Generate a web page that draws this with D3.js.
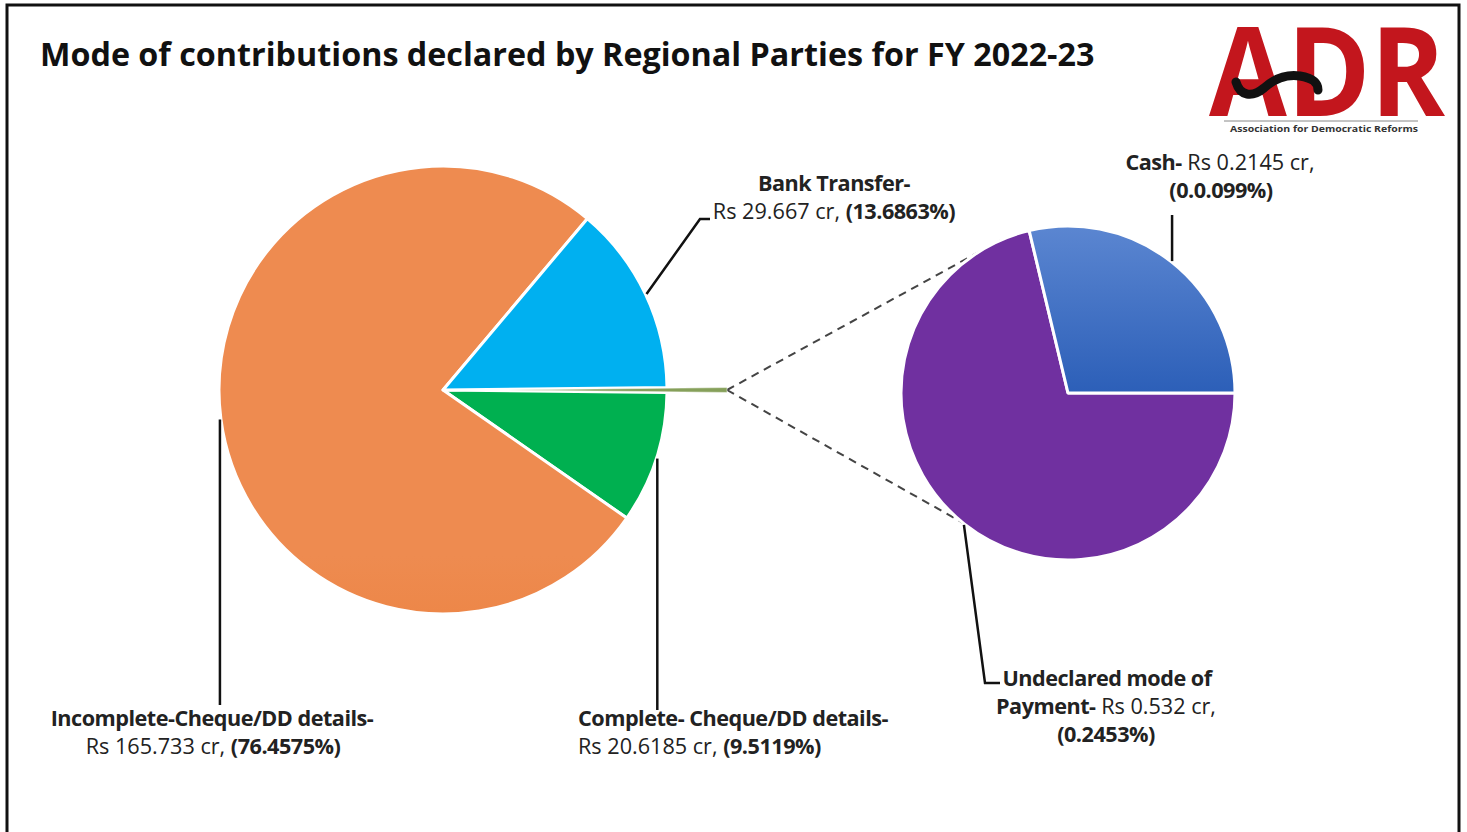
<!DOCTYPE html>
<html>
<head>
<meta charset="utf-8">
<script src="https://cdn.jsdelivr.net/npm/d3@7"></script>
<style>
  body { margin: 0; background: #fff; }
  text { font-family: "Open Sans", "Noto Sans", sans-serif; fill: #222; }
</style>
</head>
<body>
<div id="chart"></div>
<script>
const width = 1467, height = 832;

// main pie - "Other" is the slice broken out into the small pie
const mainNames = ["Other", "Complete- Cheque/DD details", "Incomplete-Cheque/DD details", "Bank Transfer"];
const mainValues = [0.7465, 20.6185, 165.733, 29.667];
const mainAmounts = ["", "20.6185", "165.733", "29.667"];
const mainPcts = ["", "9.5119", "76.4575", "13.6863"];

// second pie (breakdown of "Other")
const subNames = ["Undeclared mode of Payment", "Cash"];
const subValues = [0.532, 0.2145];
const subAmounts = ["0.532", "0.2145"];
const subPcts = ["0.2453", "0.0.099"];

const title = "Mode of contributions declared by Regional Parties for FY 2022-23";

const mainColors = ["#86a05a", "#00b050", "url(#orangeGrad)", "#00b0f0"];
const subColors = ["#7030a0", "url(#cashGrad)"];

const cx = 443, cy = 390, R = 224;
const sx = 1068, sy = 393, r2 = 167;
const explode = 60;
let labelSize = 20;

const svg = d3.select("#chart")
  .append("svg")
  .attr("width", width)
  .attr("height", height)
  .style("background", "#fff");

const defs = svg.append("defs");
const og = defs.append("linearGradient").attr("id", "orangeGrad")
  .attr("gradientUnits", "userSpaceOnUse")
  .attr("x1", 0).attr("y1", cy - R).attr("x2", 0).attr("y2", cy + R);
og.append("stop").attr("offset", 0).attr("stop-color", "#ee8b50");
og.append("stop").attr("offset", 1).attr("stop-color", "#e66b17");
const cg = defs.append("linearGradient").attr("id", "cashGrad")
  .attr("x1", 0).attr("y1", 0).attr("x2", 0).attr("y2", 1);
cg.append("stop").attr("offset", 0).attr("stop-color", "#5b86d1");
cg.append("stop").attr("offset", 1).attr("stop-color", "#2c5fb8");

// frame
svg.append("path")
  .attr("d", `M7,${height} V5 H1459 V${height}`)
  .attr("fill", "none")
  .attr("stroke", "#111")
  .attr("stroke-width", 3);

// title, sized to span the same width as the original
const titleText = svg.append("text")
  .attr("x", 40).attr("y", 66)
  .attr("font-size", 30)
  .attr("font-weight", 700)
  .style("fill", "#111")
  .text(title);
titleText.attr("font-size", 30 * 1055 / titleText.node().getComputedTextLength());

// pies
const total = d3.sum(mainValues);
const a0 = Math.PI / 2 - (mainValues[0] / total) * Math.PI;
const mainPie = d3.pie().sort(null).value(d => d).startAngle(a0).endAngle(a0 + 2 * Math.PI);
const subPie = d3.pie().sort(null).value(d => d).startAngle(Math.PI / 2).endAngle(Math.PI / 2 + 2 * Math.PI);

const mainArc = d3.arc().innerRadius(0).outerRadius(R);
const subArc = d3.arc().innerRadius(0).outerRadius(r2);

const mainArcs = mainPie(mainValues);
const subArcs = subPie(subValues);

const pt = (x, y, rad, a) => [x + rad * Math.sin(a), y - rad * Math.cos(a)];
const mid = d => (d.startAngle + d.endAngle) / 2;

// connector lines between the pies
const tip = pt(cx + explode, cy, R, mid(mainArcs[0]));
const connTop = pt(sx, sy, r2, -24 * Math.PI / 180);
const connBot = pt(sx, sy, r2, 219 * Math.PI / 180);
svg.append("g")
  .selectAll("line")
  .data([connTop, connBot])
  .join("line")
  .attr("x1", tip[0]).attr("y1", tip[1])
  .attr("x2", d => d[0]).attr("y2", d => d[1])
  .attr("stroke", "#444")
  .attr("stroke-width", 2)
  .attr("stroke-dasharray", "8,6");

// draw "Other" last so the thin exploded wedge stays visible
svg.append("g")
  .attr("transform", `translate(${cx},${cy})`)
  .selectAll("path")
  .data(mainArcs.slice(1).concat(mainArcs[0]))
  .join("path")
  .attr("d", mainArc)
  .attr("transform", d => d.index === 0 ? `translate(${explode * Math.sin(mid(d))},${-explode * Math.cos(mid(d))})` : null)
  .attr("fill", d => mainColors[d.index])
  .attr("stroke", "#fff")
  .attr("stroke-width", d => d.index === 0 ? 0.5 : 3)
  .attr("stroke-linejoin", "round");

svg.append("g")
  .attr("transform", `translate(${sx},${sy})`)
  .selectAll("path")
  .data(subArcs)
  .join("path")
  .attr("d", subArc)
  .attr("fill", (d, i) => subColors[i])
  .attr("stroke", "#fff")
  .attr("stroke-width", 3)
  .attr("stroke-linejoin", "round");

// leader lines
const leaders = [
  [pt(cx, cy, R + 1, mid(mainArcs[3])), [700, 219], [710, 219]],
  [pt(cx, cy, R + 1, mid(mainArcs[2]))],
  [pt(cx, cy, R + 1, mid(mainArcs[1]))],
  [pt(sx, sy, r2 + 1, mid(subArcs[1]))],
  [pt(sx, sy, r2 + 1, mid(subArcs[0])), [985, 683], [1000, 683]]
];
leaders[1].push([leaders[1][0][0], 705]);
leaders[2].push([leaders[2][0][0], 710]);
leaders[3].push([leaders[3][0][0], 215]);

svg.append("g")
  .selectAll("path")
  .data(leaders)
  .join("path")
  .attr("d", d3.line())
  .attr("fill", "none")
  .attr("stroke", "#111")
  .attr("stroke-width", 2.5);

// labels: each line is a list of [text, bold] parts
function label(x, y, anchor, parts) {
  const t = svg.append("text")
    .attr("class", "lbl")
    .attr("x", x).attr("y", y)
    .attr("text-anchor", anchor)
    .attr("font-size", labelSize);
  parts.forEach(p => t.append("tspan")
    .attr("font-weight", p[1] ? 700 : 400)
    .attr("letter-spacing", p[1] ? -0.5 : 0)
    .text(p[0]));
  return t;
}

label(834, 191, "middle", [[mainNames[3] + "-", true]]);
const refLine = label(834, 219, "middle", [[`Rs ${mainAmounts[3]} cr, `, false], [`(${mainPcts[3]}%)`, true]]);

label(212, 726, "middle", [[mainNames[2] + "-", true]]);
label(213, 754, "middle", [[`Rs ${mainAmounts[2]} cr, `, false], [`(${mainPcts[2]}%)`, true]]);

label(578, 726, "start", [[mainNames[1] + "-", true]]);
label(578, 754, "start", [[`Rs ${mainAmounts[1]} cr, `, false], [`(${mainPcts[1]}%)`, true]]);

label(1220, 170, "middle", [[subNames[1] + "-", true], [` Rs ${subAmounts[1]} cr,`, false]]);
label(1221, 198, "middle", [[`(${subPcts[1]}%)`, true]]);

const undeclWords = subNames[0].split(" ");
label(1107, 686, "middle", [[undeclWords.slice(0, 3).join(" "), true]]);
label(1106, 714, "middle", [[undeclWords[3] + "-", true], [` Rs ${subAmounts[0]} cr,`, false]]);
label(1106, 742, "middle", [[`(${subPcts[0]}%)`, true]]);

// one common label size, matched on the bank transfer amount line (242px wide in the original)
labelSize = labelSize * 242 / refLine.node().getComputedTextLength();
svg.selectAll("text.lbl").attr("font-size", labelSize);

// ADR logo
const logo = svg.append("g");
logo.append("text")
  .attr("x", 1209).attr("y", 116)
  .attr("font-family", "'Liberation Sans', Arial, sans-serif")
  .attr("font-size", 124)
  .attr("font-weight", 700)
  .attr("textLength", 236)
  .attr("lengthAdjust", "spacingAndGlyphs")
  .style("fill", "#c3161d")
  .text("ADR");
logo.append("path")
  .attr("d", "M1236,82 C1240,96 1252,98 1264,88 C1274,79 1286,74 1300,76 C1312,78 1318,82 1318,90")
  .attr("fill", "none")
  .attr("stroke", "#111")
  .attr("stroke-width", 9)
  .attr("stroke-linecap", "round");
logo.append("line")
  .attr("x1", 1224).attr("x2", 1418).attr("y1", 121).attr("y2", 121)
  .attr("stroke", "#888").attr("stroke-width", 1);
logo.append("text")
  .attr("x", 1230).attr("y", 132)
  .attr("font-family", "'Liberation Sans', Arial, sans-serif")
  .attr("font-size", 8.5)
  .attr("font-weight", 700)
  .attr("textLength", 188)
  .attr("lengthAdjust", "spacingAndGlyphs")
  .style("fill", "#333")
  .text("Association for Democratic Reforms");
</script>
</body>
</html>
